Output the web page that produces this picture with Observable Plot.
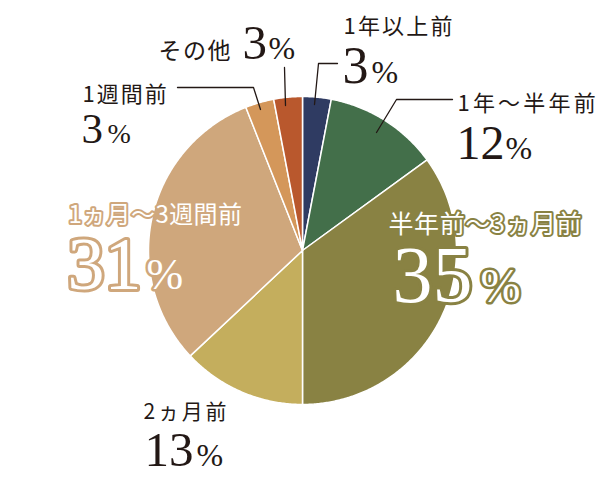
<!DOCTYPE html>
<html>
<head>
<meta charset="utf-8">
<script src="https://cdn.jsdelivr.net/npm/d3@7"></script>
<script src="https://cdn.jsdelivr.net/npm/@observablehq/plot@0.6"></script>
<style>
  html, body { margin: 0; padding: 0; background: #fff; }
  svg { display: block; }
</style>
</head>
<body>
<div id="chart"></div>
<script>
// ---- data ----
const categories = ["1年以上前", "1年〜半年前", "半年前〜3ヵ月前", "2ヵ月前", "1ヵ月〜3週間前", "1週間前", "その他"];
const values = [3, 12, 35, 13, 31, 3, 3];
const colors = ["#2f3b62", "#436f4a", "#898243", "#c4ae5d", "#cfa77c", "#d4975a", "#b9582d"];

// ---- layout ----
const W = 610, H = 479;
const CX = 302, CY = 250, R = 154;
const INK = "#231815";
const JP = "'Noto Sans CJK JP', 'Noto Sans', sans-serif";
const NUM = "'Liberation Serif', 'DejaVu Serif', serif";

// label layout per category: name pos/size/spacing, number pos/size, percent pos/size, style
const labelLayout = [
  {nx: 343, ny: 33, ns: 22, ls: 2.2, vx: 342, vy: 82, vs: 52, px: 371, ps: 32},
  {nx: 457, ny: 110, ns: 22, ls: 3.2, vx: 456, vy: 158, vs: 48, px: 505, ps: 32},
  {nx: 388, ny: 232, ns: 25, ls: 0.6, vx: 392, vy: 301, vs: 80, px: 480, ps: 48, halo: "#898243"},
  {nx: 143, ny: 418, ns: 21, ls: 2.8, vx: 144, vy: 465, vs: 49, px: 196, ps: 32},
  {nx: 68, ny: 222, ns: 24, ls: 0.4, vx: 67, vy: 288, vs: 74, px: 146, ps: 44, halo: "#cfa77c"},
  {nx: 82, ny: 101, ns: 22, ls: 2, vx: 81, vy: 142, vs: 43, px: 107, ps: 28},
  {nx: 158, ny: 58, ns: 23, ls: 1.5, vx: 242, vy: 58, vs: 49, px: 268, ps: 32}
];

// leader lines (category index, path in px)
const leaders = [
  {k: 0, pts: [[314, 104], [318, 63], [337, 63]]},
  {k: 1, pts: [[376, 132], [396, 99], [452, 99]]},
  {k: 6, pts: [[285, 105], [284, 67]]},
  {k: 5, pts: [[260, 109], [253, 87], [177, 87]]}
];

// ---- build slice polygons from values ----
const total = d3.sum(values);
const slices = [];
let acc = 0;
values.forEach((v, i) => {
  const a0 = acc / total * 2 * Math.PI;
  acc += v;
  const a1 = acc / total * 2 * Math.PI;
  const steps = Math.max(2, Math.ceil((a1 - a0) / (Math.PI / 360)));
  slices.push({k: i, x: CX, y: CY, color: colors[i]});
  for (let s = 0; s <= steps; s++) {
    const a = a0 + (a1 - a0) * s / steps;
    slices.push({k: i, x: CX + R * Math.sin(a), y: CY - R * Math.cos(a), color: colors[i]});
  }
  slices.push({k: i, x: CX, y: CY, color: colors[i]});
});

const leaderPts = leaders.flatMap(l => l.pts.map(p => ({k: l.k, x: p[0], y: p[1]})));

const labels = categories.map((c, i) => ({name: c, value: String(values[i]), ...labelLayout[i]}));

function textMarks(d) {
  const halo = d.halo;
  const common = halo
    ? {fill: "white", stroke: halo, paintOrder: "stroke", strokeLinejoin: "round"}
    : {fill: INK};
  return [
    Plot.text([d], {x: "nx", y: "ny", text: "name", fontSize: d.ns, fontFamily: JP, textAnchor: "start", lineAnchor: "bottom", ...common, strokeWidth: halo ? 4 : undefined}),
    Plot.text([d], {x: "vx", y: "vy", text: "value", fontSize: d.vs, fontFamily: NUM, textAnchor: "start", lineAnchor: "bottom", ...common, strokeWidth: halo ? 6 : undefined}),
    Plot.text([d], {x: "px", y: "vy", text: () => "%", fontSize: d.ps, fontFamily: NUM, textAnchor: "start", lineAnchor: "bottom", ...common, strokeWidth: halo ? 5 : undefined})
  ];
}

const chart = Plot.plot({
  width: W,
  height: H,
  margin: 0,
  x: {domain: [0, W], range: [0, W], axis: null},
  y: {domain: [0, H], range: [0, H], axis: null},
  color: {type: "identity"},
  marks: [
    Plot.line(slices, {x: "x", y: "y", z: "k", fill: "color", stroke: "white", strokeWidth: 1.5, strokeLinejoin: "round"}),
    Plot.line(leaderPts, {x: "x", y: "y", z: "k", stroke: INK, strokeWidth: 1.3}),
    ...labels.flatMap(textMarks)
  ]
});

// letter spacing for the Japanese category names
const textGroups = d3.select(chart).selectAll("g[aria-label='text']").nodes();
labels.forEach((d, i) => {
  const g = textGroups[3 * i];
  if (g) g.style.letterSpacing = d.ls + "px";
});

document.getElementById("chart").appendChild(chart);
</script>
</body>
</html>
